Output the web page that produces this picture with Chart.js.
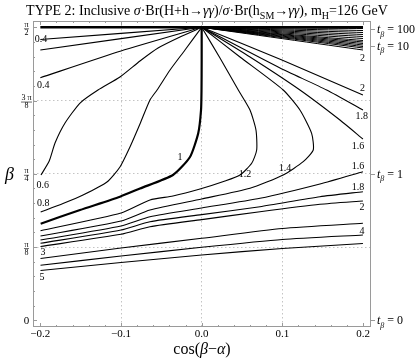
<!DOCTYPE html>
<html>
<head>
<meta charset="utf-8">
<script src="https://cdn.jsdelivr.net/npm/chart.js@4.4.0/dist/chart.umd.min.js"></script>
<style>
html, body { margin: 0; padding: 0; background: #fff; }
</style>
</head>
<body>
<canvas id="c" width="415" height="359"></canvas>
<script>
const PI = Math.PI;
const serif = '"Liberation Serif", "Times New Roman", serif';

// axes
const xTicks = [-0.2, -0.1, 0, 0.1, 0.2];
const yTicks = [0, PI / 8, PI / 4, 3 * PI / 8, PI / 2];
const yTickNum = ["0", "π", "π", "3 π", "π"];
const yTickDen = ["", "8", "4", "8", "2"];
const tbTicks = [100, 10, 1, 0];

// contours, [cos(beta-alpha), beta]
const topLine = [[-0.2, 1.5708], [0.2, 1.5708]];
const c02a = [[-0.2, 1.5054], [0, 1.5708]];
const c02b = [[-0.2, 1.4491], [0, 1.5708]];
const c04 = [[-0.2, 1.3006], [-0.1, 1.4437], [0, 1.5708]];
const c06 = [[0, 1.5708], [-0.0269, 1.5188], [-0.0541, 1.4598], [-0.0765, 1.3901], [-0.1013, 1.3043],
  [-0.1285, 1.2346], [-0.1508, 1.1649], [-0.1694, 1.0577], [-0.1818, 0.9505], [-0.1890, 0.8540], [-0.1992, 0.7790]];
const c08 = [[0, 1.5708], [-0.0207, 1.4491], [-0.0392, 1.3419], [-0.0553, 1.2346], [-0.0641, 1.1810],
  [-0.0765, 1.0524], [-0.0889, 0.9291], [-0.1013, 0.8218], [-0.1174, 0.7414], [-0.1471, 0.6717],
  [-0.1719, 0.6262], [-0.1996, 0.5806]];
const c1 = [[0, 1.5708], [0, 1.3955], [-0.0002, 1.2346], [-0.0008, 1.1274], [-0.0042, 1.0041], [-0.0145, 0.8754],
  [-0.0356, 0.7790], [-0.0765, 0.7066], [-0.1013, 0.6626], [-0.1508, 0.5913], [-0.1996, 0.5179]];
const c12 = [[0, 1.5708], [0.0227, 1.4062], [0.0454, 1.2346], [0.0599, 1.1274], [0.0673, 1.0202], [0.0682, 0.9130],
  [0.0620, 0.8417], [0.0475, 0.7790], [0.0289, 0.7468], [-0.0021, 0.7039], [-0.0356, 0.6664], [-0.0641, 0.6450],
  [-0.1, 0.5752], [-0.1998, 0.4803]];
const c14 = [[0, 1.5708], [0.0475, 1.4115], [0.1011, 1.2346], [0.1218, 1.1274], [0.1363, 1.0025], [0.1383, 0.9130],
  [0.1259, 0.8503], [0.1011, 0.7790], [0.0599, 0.7077], [0, 0.6503], [-0.0641, 0.5913], [-0.1, 0.5324], [-0.1998, 0.4519]];
const c16a = [[0, 1.5708], [0.0599, 1.4115], [0.1218, 1.2346], [0.1714, 1.0738], [0.1999, 0.9720]];
const c16b = [[-0.1998, 0.4305], [-0.1, 0.5055], [-0.0641, 0.5554], [0, 0.6020], [0.0723, 0.6540], [0.1466, 0.7307], [0.1999, 0.7966]];
const c18a = [[0, 1.5708], [0.0971, 1.3526], [0.1549, 1.2346], [0.1999, 1.1274]];
const c18b = [[-0.1998, 0.4128], [-0.1, 0.4841], [-0.0641, 0.5286], [0, 0.5667], [0.0723, 0.6090], [0.1466, 0.6626], [0.1999, 0.6894]];
const c2a = [[0, 1.5708], [0.0995, 1.3955], [0.1999, 1.2078]];
const c2b = [[-0.1998, 0.3956], [-0.1, 0.4610], [-0.0641, 0.5018], [0, 0.5399], [0.0723, 0.5822], [0.1466, 0.6219], [0.1999, 0.6396]];
const c3 = [[-0.1998, 0.3313], [-0.1, 0.3876], [0, 0.4396], [0.1, 0.4921], [0.1999, 0.5200]];
const c4 = [[-0.1998, 0.2949], [-0.1, 0.3447], [0, 0.3914], [0.1, 0.4332], [0.1999, 0.4573]];
const c5 = [[-0.1998, 0.2670], [-0.1, 0.3099], [0, 0.3501], [0.1, 0.3849], [0.1999, 0.4117]];
// dense fan from (0, pi/2) to the right edge: beta at cos(beta-alpha) = 0.2
const fanEnds = [1.5643, 1.5536, 1.5429, 1.5322, 1.5215, 1.5107, 1.5000, 1.4920, 1.4839, 1.4759, 1.4678, 1.4598, 1.4491];

const contourLabels = ["0.4", "0.4", "0.6", "0.8", "1", "1.2", "1.4", "1.6", "1.6", "1.8", "1.8", "2", "2", "2", "3", "4", "5"];
const labelX = [-0.1992, -0.1963, -0.1971, -0.1963, -0.0269, 0.0537, 0.1033, 0.1937, 0.1937, 0.1983, 0.1937, 0.1993, 0.1993, 0.1987, -0.1967, 0.1987, -0.1980];
const labelY = [1.5054, 1.2588, 0.7253, 0.6272, 0.8754, 0.7843, 0.8138, 0.9344, 0.8235, 1.0953, 0.7119, 1.2427, 1.4035, 0.6047, 0.3635, 0.4787, 0.2321];

function line(pts, w) {
  return {
    data: pts.map(p => ({ x: p[0], y: p[1] })),
    showLine: true, borderColor: "#000", borderWidth: w,
    pointRadius: 0, tension: 0.2, fill: false
  };
}

const datasets = [c02a, c02b, c04, c06, c08, c12, c14, c16a, c16b, c18a, c18b, c2a, c2b, c3, c4, c5].map(p => line(p, 1.1));
datasets.push(line(c1, 2.2));
datasets.push(line(topLine, 2.5));
fanEnds.forEach(b => datasets.push(line([[0, PI / 2], [0.2, b]], 1)));

function runFont(r, size) {
  return (r.i ? "italic " : "") + (r.sub ? Math.round(size * 0.7) : size) + "px " + serif;
}
function drawRuns(ctx, runs, x, base, size, align) {
  let w = 0;
  for (const r of runs) { ctx.font = runFont(r, size); w += ctx.measureText(r.t).width; }
  if (align === "center") x -= w / 2;
  ctx.textAlign = "left";
  ctx.textBaseline = "alphabetic";
  for (const r of runs) {
    ctx.font = runFont(r, size);
    ctx.fillText(r.t, x, base + (r.sub ? size * 0.28 : 0));
    x += ctx.measureText(r.t).width;
  }
}

const titleRuns = [
  { t: "TYPE 2: Inclusive " }, { t: "σ", i: 1 }, { t: "·Br(H+h→" }, { t: "γγ", i: 1 }, { t: ")/" },
  { t: "σ", i: 1 }, { t: "·Br(h" }, { t: "SM", sub: 1 }, { t: "→" }, { t: "γγ", i: 1 },
  { t: "), m" }, { t: "H", sub: 1 }, { t: "=126 GeV" }
];
const xTitleRuns = [{ t: "cos(" }, { t: "β", i: 1 }, { t: "−" }, { t: "α", i: 1 }, { t: ")" }];

const deco = {
  id: "deco",
  afterDraw(chart) {
    const { ctx, chartArea: a, scales: { x, y } } = chart;
    ctx.save();
    ctx.fillStyle = "#000";

    // frame + ticks
    ctx.strokeStyle = "#9a9a9a";
    ctx.lineWidth = 1;
    ctx.strokeRect(a.left + 0.5, a.top + 0.5, a.right - a.left - 1, a.bottom - a.top - 1);
    ctx.beginPath();
    for (let i = -10; i <= 10; i++) {
      const px = Math.round(x.getPixelForValue(i * 0.02)) + 0.5;
      const len = i % 5 === 0 ? 4 : 2;
      ctx.moveTo(px, a.bottom); ctx.lineTo(px, a.bottom - len);
      ctx.moveTo(px, a.top); ctx.lineTo(px, a.top + len);
    }
    for (let i = 0; i <= 20; i++) {
      const py = Math.round(y.getPixelForValue(i * PI / 40)) + 0.5;
      const len = i % 5 === 0 ? 4 : 2;
      ctx.moveTo(a.left, py); ctx.lineTo(a.left + len, py);
    }
    tbTicks.forEach(t => {
      const py = Math.round(y.getPixelForValue(Math.atan(t))) + 0.5;
      ctx.moveTo(a.right, py); ctx.lineTo(a.right + 4, py);
    });
    ctx.stroke();

    // left tick labels (fractions of pi)
    ctx.strokeStyle = "#000";
    ctx.lineWidth = 0.6;
    yTicks.forEach((v, i) => {
      const py = y.getPixelForValue(v);
      const cx = 26.5;
      ctx.textAlign = "center";
      ctx.textBaseline = "alphabetic";
      if (!yTickDen[i]) {
        ctx.font = "11px " + serif;
        ctx.fillText(yTickNum[i], cx, py + 4);
        return;
      }
      ctx.font = "8px " + serif;
      const w = Math.max(ctx.measureText(yTickNum[i]).width, ctx.measureText(yTickDen[i]).width);
      ctx.fillText(yTickNum[i], cx, py - 0.5);
      ctx.fillText(yTickDen[i], cx, py + 7.5);
      ctx.beginPath();
      ctx.moveTo(cx - w / 2 - 0.5, py + 1.5);
      ctx.lineTo(cx + w / 2 + 0.5, py + 1.5);
      ctx.stroke();
    });

    // right t_beta labels
    tbTicks.forEach(t => {
      const py = y.getPixelForValue(Math.atan(t));
      drawRuns(ctx, [{ t: "t", i: 1 }, { t: "β", i: 1, sub: 1 }, { t: " = " + t }], 377, py + 4, 12, "left");
    });

    // contour labels
    ctx.font = "10px " + serif;
    ctx.textAlign = "center";
    ctx.textBaseline = "middle";
    contourLabels.forEach((s, i) => {
      ctx.fillText(s, x.getPixelForValue(labelX[i]), y.getPixelForValue(labelY[i]));
    });

    // titles
    drawRuns(ctx, titleRuns, 207, 15, 14, "center");
    drawRuns(ctx, xTitleRuns, (a.left + a.right) / 2, 354, 16, "center");
    drawRuns(ctx, [{ t: "β", i: 1 }], 5, y.getPixelForValue(PI / 4) + 6, 18, "left");
    ctx.restore();
  }
};

new Chart(document.getElementById("c"), {
  type: "scatter",
  data: { datasets },
  plugins: [deco],
  options: {
    responsive: false,
    animation: false,
    devicePixelRatio: 1,
    layout: { padding: { top: 21, right: 44, left: 0, bottom: 0 } },
    plugins: { legend: { display: false }, tooltip: { enabled: false } },
    scales: {
      x: {
        type: "linear",
        min: -0.2091,
        max: 0.2099,
        afterBuildTicks: s => { s.ticks = xTicks.map(v => ({ value: v })); },
        afterFit: s => { s.height = 32; },
        ticks: {
          color: "#000",
          font: { family: serif, size: 11 },
          padding: 1,
          maxRotation: 0,
          autoSkip: false,
          callback: v => (v < 0 ? "−" : "") + Math.abs(v).toFixed(1)
        },
        grid: {
          drawTicks: false,
          lineWidth: 0.8,
          color: c => (c.tick && Math.abs(c.tick.value) < 0.15) ? "#b5b5b5" : "rgba(0,0,0,0)"
        },
        border: { display: false, dash: [1.5, 2.5] }
      },
      y: {
        type: "linear",
        min: -0.0359,
        max: 1.6046,
        afterBuildTicks: s => { s.ticks = yTicks.map(v => ({ value: v })); },
        afterFit: s => { s.width = 33; },
        ticks: { display: false },
        grid: {
          drawTicks: false,
          lineWidth: 0.8,
          color: c => (c.tick && c.tick.value > 0.1 && c.tick.value < 1.5) ? "#b5b5b5" : "rgba(0,0,0,0)"
        },
        border: { display: false, dash: [1.5, 2.5] }
      }
    }
  }
});
</script>
</body>
</html>
